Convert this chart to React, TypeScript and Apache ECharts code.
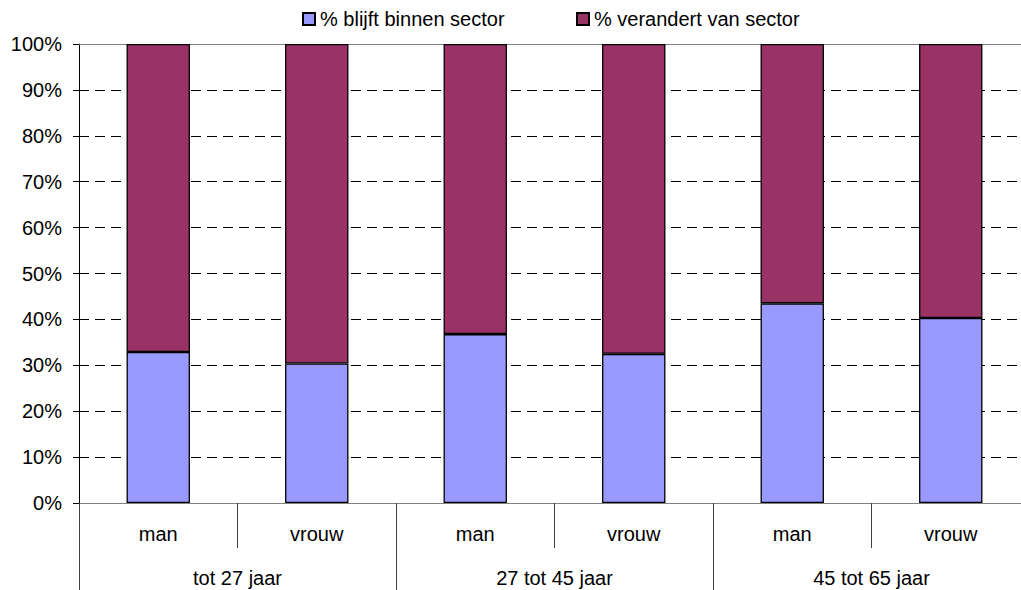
import React, { useEffect, useRef } from "react";
import * as echarts from "echarts";

const subCategories = ["man", "vrouw", "man", "vrouw", "man", "vrouw"];
const groupCategories = ["tot 27 jaar", "27 tot 45 jaar", "45 tot 65 jaar"];
const blijftValues = [32.9, 30.4, 36.8, 32.5, 43.5, 40.3];
const verandertValues = blijftValues.map((v) => +(100 - v).toFixed(1));
const seriesNames = ["% blijft binnen sector", "% verandert van sector"];

const FONT = "Liberation Sans, Arial, sans-serif";
const FS = 20;

export default function App() {
  const ref = useRef<HTMLDivElement>(null);
  useEffect(() => {
    document.body.style.margin = "0";
    document.body.style.overflow = "hidden";
    const chart = echarts.init(ref.current!, null, { renderer: "svg" });
    const legendBase = {
      top: 9,
      padding: 0,
      itemWidth: 12,
      itemHeight: 12,
      icon: "rect",
      textStyle: { fontSize: FS, color: "#000", fontFamily: FONT },
    };
    chart.setOption({
      animation: false,
      textStyle: { fontFamily: FONT },
      legend: [
        { ...legendBase, left: 302, data: [seriesNames[0]] },
        { ...legendBase, left: 576, data: [seriesNames[1]] },
      ],
      grid: { left: 79, top: 44, bottom: 87, right: 0 },
      xAxis: [
        {
          type: "category",
          data: subCategories,
          position: "bottom",
          axisLine: { show: true, lineStyle: { color: "#808080", width: 1 } },
          axisTick: { show: true, length: 45, interval: 0, lineStyle: { color: "#404040" } },
          axisLabel: { interval: 0, margin: 21, fontSize: FS, color: "#000", fontFamily: FONT },
        },
        {
          type: "category",
          data: groupCategories,
          position: "bottom",
          axisLine: { show: false },
          axisTick: { show: true, length: 87, interval: 0, lineStyle: { color: "#404040" } },
          axisLabel: { interval: 0, margin: 65, fontSize: FS, color: "#000", fontFamily: FONT },
        },
      ],
      yAxis: {
        type: "value",
        min: 0,
        max: 100,
        interval: 10,
        axisLine: { show: true, lineStyle: { color: "#000" } },
        axisTick: { show: true, length: 6, lineStyle: { color: "#000" } },
        axisLabel: { formatter: "{value}%", margin: 17, fontSize: FS, color: "#000", fontFamily: FONT },
        splitLine: { show: true, lineStyle: { color: "#000", type: [10, 6], width: 1 } },
      },
      series: [
        {
          name: seriesNames[0],
          type: "bar",
          stack: "total",
          barWidth: "40%",
          data: blijftValues,
          itemStyle: { color: "#9999FF", borderColor: "#000", borderWidth: 1.3 },
        },
        {
          name: seriesNames[1],
          type: "bar",
          stack: "total",
          barWidth: "40%",
          data: verandertValues,
          itemStyle: { color: "#993366", borderColor: "#000", borderWidth: 1.3 },
          markLine: {
            silent: true,
            symbol: "none",
            label: { show: false },
            lineStyle: { color: "#808080", type: "solid", width: 1 },
            data: [{ yAxis: 100 }],
            z: 1,
          },
        },
      ],
    });
    return () => chart.dispose();
  }, []);
  return <div ref={ref} style={{ width: 1030, height: 590 }} />;
}
